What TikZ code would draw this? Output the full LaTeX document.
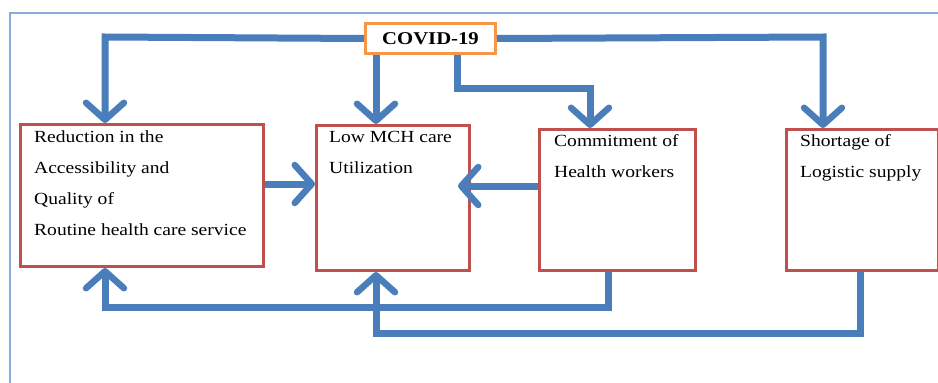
\documentclass[tikz,border=0pt]{standalone}
\usepackage{fontspec}
\setmainfont[FakeStretch=1.15]{Liberation Serif}
\usetikzlibrary{arrows.meta}
\definecolor{arrowblue}{HTML}{4A7EBB}
\definecolor{boxred}{HTML}{C0504D}
\definecolor{boxorange}{HTML}{F79646}
\definecolor{framecol}{HTML}{8EAADB}
\begin{document}
\begin{tikzpicture}[x=1pt,y=-1pt,
  box/.style={draw=boxred, line width=3pt, fill=white, anchor=north west, inner sep=0pt},
  covidbox/.style={draw=boxorange, line width=3pt, fill=white, anchor=north west, inner sep=0pt,
    font=\fontsize{18}{20}\selectfont\bfseries},
  txt/.style={anchor=base west, inner sep=0pt, align=left, font=\fontsize{17}{31}\selectfont},
  conn/.style={draw=arrowblue, line width=7pt, line join=miter},
  arr/.style={conn, -{Straight Barb[length=17pt,width=38pt,line width=6.5pt,round]}}
]
\useasboundingbox (0,0) rectangle (938,383);
% frame
\draw[framecol, line width=1.2pt] (10,383) -- (10,13) -- (938,13);

% boxes
\node[covidbox, minimum width=130pt, minimum height=30pt] (covid) at (364,22) {COVID-19};
\node[box, minimum width=243pt, minimum height=142pt] (b1) at (19,123) {};
\node[box, minimum width=153pt, minimum height=145pt] (b2) at (315,124) {};
\node[box, minimum width=156pt, minimum height=141pt] (b3) at (538,128) {};
\node[box, minimum width=152pt, minimum height=141pt] (b4) at (785,128) {};

% texts (anchored at the baseline of their last line)
\node[txt] (t1) at (34,235) {Reduction in the\\Accessibility and\\Quality of\\Routine health care service};
\node[txt] (t2) at (329,173) {Low MCH care\\Utilization};
\node[txt] (t3) at (554,177) {Commitment of\\Health workers};
\node[txt] (t4) at (800,177) {Shortage of\\Logistic supply};

% coordinates
\coordinate (c1) at (105,37);
\coordinate (c3a) at (457,88);
\coordinate (c3b) at (590,88);
\coordinate (c4) at (823,37);
\coordinate (c7a) at (608,307);
\coordinate (c7b) at (105,307);
\coordinate (c8a) at (860,333);
\coordinate (c8b) at (376,333);
\coordinate (c6) at (458,186);

% connectors from COVID
\draw[arr] (covid.west) -- (c1) -- (c1 |- b1.north);
\draw[arr] (covid.south -| c8b) -- (c8b |- b2.north);
\draw[arr] (covid.south -| c3a) -- (c3a) -- (c3b) -- (c3b |- b3.north);
\draw[arr] (covid.east) -- (c4) -- (c4 |- b4.north);

% horizontal arrows
\draw[arr] (b1.east |- 0,184) -- (b2.west |- 0,184);
\draw[arr] (b3.west |- c6) -- (c6);

% bottom feedback loops
\draw[arr] (b3.south -| c7a) -- (c7a) -- (c7b) -- (c7b |- b1.south);
\draw[arr] (b4.south -| c8a) -- (c8a) -- (c8b) -- (c8b |- b2.south);
\end{tikzpicture}
\end{document}
